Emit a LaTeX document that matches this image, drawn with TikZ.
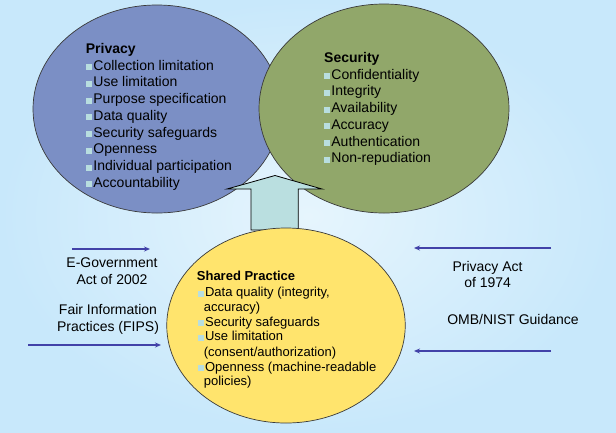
\documentclass[tikz,border=0pt]{standalone}
\usepackage{fontspec}
\setmainfont{Liberation Sans}
\usetikzlibrary{shapes.geometric,arrows.meta}
\definecolor{bgout}{HTML}{C8E8FB}
\definecolor{bgin}{HTML}{E6F5FD}
\definecolor{privc}{HTML}{7B8FC5}
\definecolor{secc}{HTML}{91A76A}
\definecolor{yelc}{HTML}{FFE46D}
\definecolor{blockc}{HTML}{BADFE0}
\definecolor{bulc}{HTML}{B8DEDF}
\definecolor{edgec}{HTML}{3A3A3A}
\definecolor{flowc}{HTML}{4242A8}
\newcommand\mybul{\textcolor{bulc}{\rule{6pt}{6pt}}\hspace{1.2pt}}
\begin{document}
\begin{tikzpicture}[x=1pt,y=-1pt,
  blob/.style={ellipse, draw=edgec, line width=0.7pt, inner sep=0pt},
  big/.style={inner sep=0pt, font=\fontsize{14}{16}\selectfont},
  bigb/.style={inner sep=0pt, font=\fontsize{14}{16}\selectfont\bfseries},
  small/.style={inner sep=0pt, font=\fontsize{13}{15}\selectfont},
  smallb/.style={inner sep=0pt, font=\fontsize{13}{15}\selectfont\bfseries},
  flow/.style={draw=flowc, line width=1.3pt, -{Stealth[length=6pt,width=5pt]}},
  blockarrow/.style={draw=black, line width=0.8pt, fill=blockc, line join=miter}]
\useasboundingbox (0,0) rectangle (616,432);
\fill[inner color=bgin, outer color=bgout] (0,0) rectangle (616,432);

% ellipses
\node[blob, fill=privc, minimum width=248pt, minimum height=208pt] (priv) at (157,109) {};
\node[blob, fill=secc, minimum width=250pt, minimum height=209pt] (sec) at (384,108.5) {};

% block arrow
\draw[blockarrow] (251,230) -- (251,189) -- (227,189) -- (275,175.5) -- (322,189) -- (298.3,189) -- (298.3,230) -- cycle;

\node[blob, fill=yelc, minimum width=238.5pt, minimum height=195pt] (shared) at (286,325.5) {};

% privacy text
\node[bigb, anchor=base west] (ptitle) at (85.7,53) {Privacy};
\foreach \t [count=\i] in {Collection limitation, Use limitation, Purpose specification, Data quality, Security safeguards, Openness, Individual participation, Accountability}
  \node[big, anchor=base west] (p\i) at (86,{70.2+16.74*(\i-1)}) {\mybul\t};

% security text
\node[bigb, anchor=base west] (stitle) at (324,62) {Security};
\foreach \t [count=\i] in {Confidentiality, Integrity, Availability, Accuracy, Authentication, Non-repudiation}
  \node[big, anchor=base west] (s\i) at (324,{79.2+16.74*(\i-1)}) {\mybul\t};

% shared text
\node[smallb, anchor=base west] (shtitle) at (196.7,280) {Shared Practice};
\node[small, anchor=base west] (sh1) at (197.7,296.7) {\mybul Data quality (integrity,};
\node[small, anchor=base west] (sh1b) at (203.7,311) {accuracy)};
\node[small, anchor=base west] (sh2) at (197.7,326) {\mybul Security safeguards};
\node[small, anchor=base west] (sh3) at (197.7,340.7) {\mybul Use limitation};
\node[small, anchor=base west] (sh3b) at (203.7,356) {(consent/authorization)};
\node[small, anchor=base west] (sh4) at (197.7,371) {\mybul Openness (machine-readable};
\node[small, anchor=base west] (sh4b) at (203.7,385) {policies)};

% side labels
\node[big, anchor=base] (eg1) at (112,267.7) {E-Government};
\node[big, anchor=base] (eg2) at (112,284.3) {Act of 2002};
\node[big, anchor=base] (fi1) at (108,314.3) {Fair Information};
\node[big, anchor=base] (fi2) at (108,331) {Practices (FIPS)};
\node[big, anchor=base] (pa1) at (487.6,271) {Privacy Act};
\node[big, anchor=base] (pa2) at (487.6,287.7) {of 1974};
\node[big, anchor=base] (omb) at (513,324) {OMB/NIST Guidance};

% flow arrows
\coordinate (a1s) at (72,249);  \coordinate (a1e) at (150,249);
\coordinate (a2s) at (28,345);  \coordinate (a2e) at (161,345);
\coordinate (a3s) at (551,248); \coordinate (a3e) at (414,248);
\coordinate (a4s) at (551,351); \coordinate (a4e) at (414,351);
\draw[flow] (a1s) -- (a1e);
\draw[flow] (a2s) -- (a2e);
\draw[flow] (a3s) -- (a3e);
\draw[flow] (a4s) -- (a4e);
\end{tikzpicture}
\end{document}
